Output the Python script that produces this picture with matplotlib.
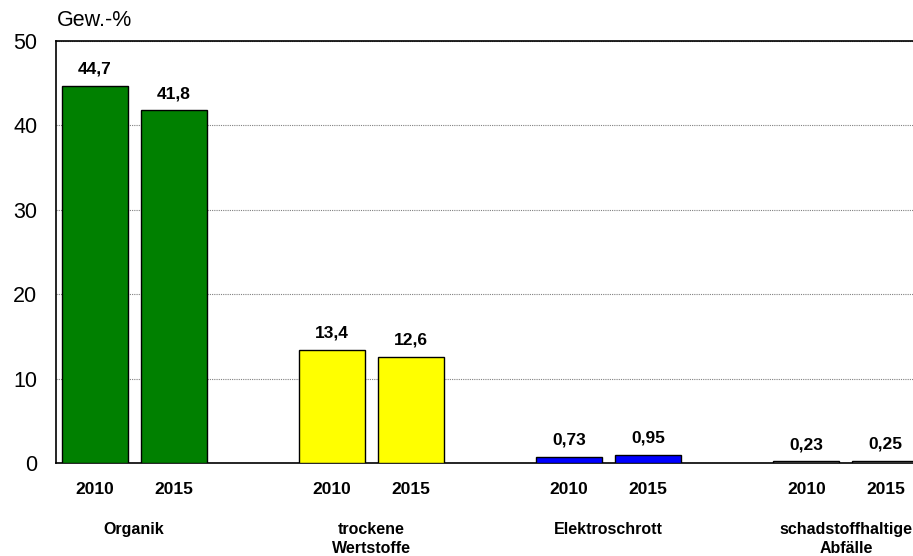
import matplotlib
matplotlib.use("Agg")
import matplotlib.pyplot as plt
import numpy as np

plt.rcParams['font.family'] = ['Liberation Sans', 'DejaVu Sans']

categories = ["Organik", "trockene\nWertstoffe", "Elektroschrott", "schadstoffhaltige\nAbfälle"]
years = ["2010", "2015"]
values_2010 = [44.7, 13.4, 0.73, 0.23]
values_2015 = [41.8, 12.6, 0.95, 0.25]
labels_2010 = ["44,7", "13,4", "0,73", "0,23"]
labels_2015 = ["41,8", "12,6", "0,95", "0,25"]
colors = ["#008000", "#FFFF00", "#0000FF", "#505050"]

fig = plt.figure(figsize=(9.13, 5.56), dpi=100)
ax = fig.add_axes([0.0613, 0.1673, 0.9387, 0.759])

width = 0.835
xpos = []
xlabels = []
for g, cat in enumerate(categories):
    for k, (vals, labs) in enumerate([(values_2010, labels_2010), (values_2015, labels_2015)]):
        x = g * 3 + k
        ax.bar(x, vals[g], width=width, color=colors[g], edgecolor="black", linewidth=1.0, zorder=3)
        ax.annotate(labs[g], (x, vals[g]), xytext=(0, 6.5), textcoords="offset points",
                    ha="center", va="bottom", fontsize=12.5, fontweight="bold", zorder=4)
        xpos.append(x)
        xlabels.append(years[k])
    ax.text(g * 3 + 0.5, -0.14, cat, transform=ax.get_xaxis_transform(), ha="center", va="top",
            fontsize=11.5, fontweight="bold", linespacing=1.35)

ax.set_xlim(-0.49, 10.35)
ax.set_ylim(0, 50)
ax.set_yticks([0, 10, 20, 30, 40, 50])
ax.set_xticks(xpos)
ax.set_xticklabels(xlabels, fontsize=12.5, fontweight="bold")
ax.tick_params(axis="x", length=0, pad=14)
ax.tick_params(axis="y", length=0, pad=13.5, labelsize=15.5)
ax.yaxis.grid(True, linestyle=(0, (1, 1)), color="#808080", linewidth=0.8, zorder=0)
ax.set_axisbelow(True)
for s in ["left", "top", "bottom"]:
    ax.spines[s].set_color("black")
    ax.spines[s].set_linewidth(1.2)
ax.spines["right"].set_visible(False)

fig.text(57 / 913, 1 - 21 / 556, "Gew.-%", ha="left", va="center", fontsize=15.5)

fig.savefig("out.png", dpi=100)
